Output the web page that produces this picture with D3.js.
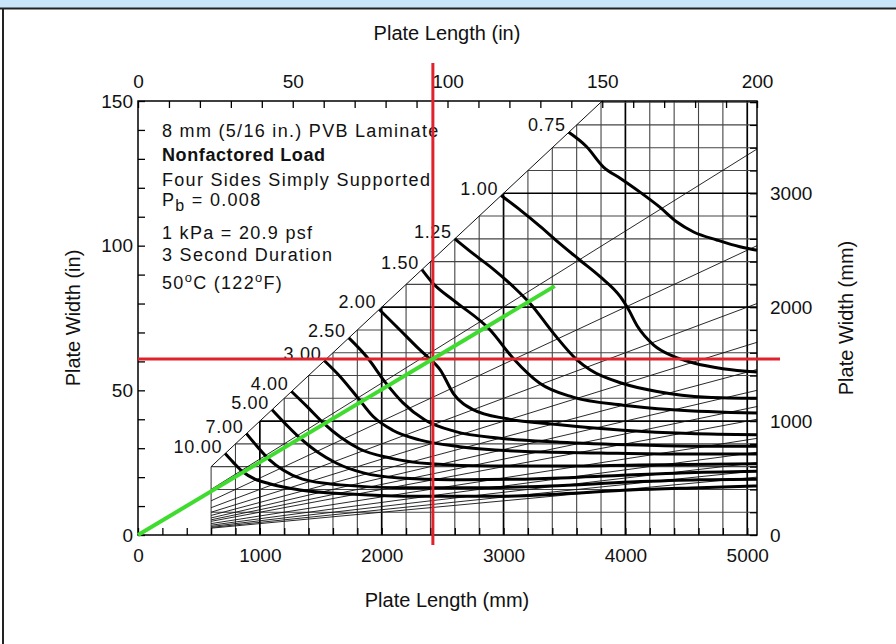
<!DOCTYPE html>
<html>
<head>
<meta charset="utf-8">
<script src="https://cdn.jsdelivr.net/npm/d3@7"></script>
<style>
  body { margin: 0; background: #fff; }
  text { font-family: "Liberation Sans", Arial, sans-serif; fill: #111; }
</style>
</head>
<body>
<svg id="chart" width="896" height="644"></svg>
<script>
// load contours, kPa: [plate length mm, plate width mm]
const c075 = [[3535,3535],[3680,3410],[3820,3230],[3960,3130],[4120,3010],[4280,2880],[4420,2750],[4560,2660],[4750,2590],[4940,2530],[5080,2500]]
const c100 = [[2980,2980],[3140,2850],[3300,2710],[3460,2560],[3630,2410],[3790,2270],[3960,2090],[4020,1990],[4100,1830],[4230,1670],[4390,1570],[4560,1510],[4800,1460],[5080,1430]]
const c125 = [[2600,2600],[2750,2470],[2920,2330],[3080,2180],[3220,2030],[3410,1770],[3600,1540],[3710,1450],[3980,1330],[4260,1260],[4670,1210],[5080,1200]]
const c150 = [[2330,2330],[2420,2210],[2590,2060],[2890,1800],[3080,1550],[3300,1330],[3570,1210],[3980,1140],[4390,1100],[5080,1070]]
const c200 = [[1980,1980],[2150,1800],[2290,1650],[2370,1570],[2480,1450],[2590,1240],[2750,1100],[3030,1020],[3440,970],[3980,920],[4530,890],[5080,880]]
const c250 = [[1730,1730],[1880,1560],[2030,1340],[2175,1160],[2355,1010],[2600,910],[2970,850],[3460,815],[4120,790],[4610,780],[5080,780]]
const c300 = [[1530,1530],[1660,1390],[1800,1210],[1930,1040],[2090,920],[2310,835],[2640,775],[3135,735],[3790,720],[4450,710],[5080,710]]
const c400 = [[1260,1260],[1390,1125],[1520,985],[1660,860],[1820,755],[2070,675],[2400,625],[2890,605],[3460,605],[4120,615],[5080,625]]
const c500 = [[1100,1100],[1220,965],[1330,850],[1470,730],[1630,630],[1850,545],[2150,500],[2560,485],[3135,490],[3790,515],[4450,545],[5080,560]]
const c700 = [[890,890],[980,775],[1080,660],[1190,570],[1350,490],[1660,440],[2150,415],[2725,415],[3380,430],[4040,465],[4610,485],[5080,490]]
const c1000 = [[715,715],[780,640],[860,555],[960,490],[1080,450],[1330,395],[1740,360],[2310,340],[2970,340],[3460,360],[4040,395],[4610,415],[5080,430]]
const loadLabels = ["0.75","1.00","1.25","1.50","2.00","2.50","3.00","4.00","5.00","7.00","10.00"]
const contours = [c075,c100,c125,c150,c200,c250,c300,c400,c500,c700,c1000]

// width / length of the thin aspect ratio lines
const aspectRatios = [0.667,0.5,0.4,0.333,0.286,0.25,0.222,0.2,0.167,0.143,0.125,0.111,0.1]

// red design point and green aspect line end, mm
const designPoint = [2420, 1545]
const greenEnd = [3420, 2185]

const inchTicks = d3.range(0, 201, 10)
const widthInTicks = d3.range(0, 151, 10)
const mmTicks = d3.range(0, 5001, 200)
const widthMmTicks = d3.range(0, 3801, 200)

const notes = ["8 mm (5/16 in.) PVB Laminate", "Nonfactored Load", "Four Sides Simply Supported",
  "Pb = 0.008", "1 kPa = 20.9 psf", "3 Second Duration", "50oC (122oF)"]

let svg = d3.select("#chart")

// page frame
svg.append("rect").attr("x", 0).attr("y", 0).attr("width", 896).attr("height", 8).attr("fill", "#c8e5fa")
svg.append("line").attr("x1", 0).attr("x2", 896).attr("y1", 8.5).attr("y2", 8.5).attr("stroke", "#222").attr("stroke-width", 2)
svg.append("line").attr("x1", 3).attr("x2", 3).attr("y1", 8).attr("y2", 644).attr("stroke", "#222").attr("stroke-width", 2)

let x = d3.scaleLinear().domain([0, 5080]).range([138, 757])
let xIn = d3.scaleLinear().domain([0, 200]).range([138, 757])
let y = d3.scaleLinear().domain([0, 3810]).range([535, 101])
let yIn = d3.scaleLinear().domain([0, 150]).range([535, 101])

let plot = svg.append("g")

// grid inside the chart region
let grid = plot.append("g")
grid.selectAll(".vg").data(mmTicks.filter(d => d >= 600))
  .enter().append("line")
  .attr("x1", d => x(d)).attr("x2", d => x(d))
  .attr("y1", y(0)).attr("y2", d => y(Math.min(d, 3810)))
  .attr("stroke", d => d % 1000 === 0 ? "#000" : "#444")
  .attr("stroke-width", d => d % 1000 === 0 ? 1.7 : 1.1)
grid.selectAll(".hg").data(widthMmTicks.filter(d => d > 0))
  .enter().append("line")
  .attr("x1", d => x(Math.max(600, d))).attr("x2", x(5080))
  .attr("y1", d => y(d)).attr("y2", d => y(d))
  .attr("stroke", d => d % 1000 === 0 ? "#000" : "#444")
  .attr("stroke-width", d => d % 1000 === 0 ? 1.7 : 1.1)

// aspect ratio lines
grid.selectAll(".ar").data(aspectRatios)
  .enter().append("line")
  .attr("x1", x(600)).attr("y1", d => y(d * 600))
  .attr("x2", x(5080)).attr("y2", d => y(d * 5080))
  .attr("stroke", "#111").attr("stroke-width", 0.9)
grid.append("line")
  .attr("x1", x(600)).attr("y1", y(600))
  .attr("x2", x(3810)).attr("y2", y(3810))
  .attr("stroke", "#111").attr("stroke-width", 1)

// load contours
let line = d3.line().x(d => x(d[0])).y(d => y(d[1])).curve(d3.curveMonotoneX)
plot.selectAll(".contour").data(contours)
  .enter().append("path")
  .attr("d", line)
  .attr("fill", "none").attr("stroke", "#000").attr("stroke-width", 3)

plot.selectAll(".clabel").data(contours)
  .enter().append("text")
  .attr("x", d => x(d[0][0]) - 3)
  .attr("y", d => y(d[0][1]) - 1)
  .attr("text-anchor", "end")
  .style("font-size", "18px")
  .style("letter-spacing", "0.7px")
  .text((d, i) => loadLabels[i])

// plot frame
plot.append("rect").attr("x", 138).attr("y", 101).attr("width", 619).attr("height", 434)
  .attr("fill", "none").attr("stroke", "#000").attr("stroke-width", 1.5)

// axes
function styleAxis(g) {
  g.select(".domain").remove()
  g.selectAll(".tick line").attr("stroke", "#000").attr("stroke-width", 1.3)
  g.selectAll(".tick text").style("font-size", "19px").attr("fill", "#111")
    .style("font-family", "'Liberation Sans', Arial, sans-serif")
}
svg.append("g").attr("transform", "translate(138,0)")
  .call(d3.axisLeft(yIn).tickValues(widthInTicks).tickSizeInner(-7).tickSizeOuter(0).tickPadding(5)
    .tickFormat(d => d % 50 === 0 ? d : ""))
  .call(styleAxis)
svg.append("g").attr("transform", "translate(0,101)")
  .call(d3.axisTop(xIn).tickValues(inchTicks).tickSizeInner(-7).tickSizeOuter(0).tickPadding(13)
    .tickFormat(d => d % 50 === 0 ? d : ""))
  .call(styleAxis)
svg.append("g").attr("transform", "translate(0,535)")
  .call(d3.axisBottom(x).tickValues(mmTicks).tickSizeInner(-7).tickSizeOuter(0).tickPadding(14)
    .tickFormat(d => d % 1000 === 0 ? d : ""))
  .call(styleAxis)
svg.append("g").attr("transform", "translate(757,0)")
  .call(d3.axisRight(y).tickValues(widthMmTicks).tickSizeInner(-7).tickSizeOuter(0).tickPadding(13)
    .tickFormat(d => d % 1000 === 0 ? d : ""))
  .call(styleAxis)

// axis titles
svg.append("text").attr("x", 447).attr("y", 40).attr("text-anchor", "middle")
  .style("font-size", "20px").text("Plate Length (in)")
svg.append("text").attr("x", 447).attr("y", 607).attr("text-anchor", "middle")
  .style("font-size", "20px").text("Plate Length (mm)")
svg.append("text").attr("text-anchor", "middle")
  .attr("transform", "translate(80,318) rotate(-90)")
  .style("font-size", "20px").text("Plate Width (in)")
svg.append("text").attr("text-anchor", "middle")
  .attr("transform", "translate(853,318) rotate(-90)")
  .style("font-size", "20px").text("Plate Width (mm)")

// notes block
let noteY = [137, 161, 186, 206, 239, 261, 289]
let notesG = svg.append("g").style("font-size", "18px").style("letter-spacing", "1.3px")
notes.forEach((t, i) => {
  let tx = notesG.append("text").attr("x", 162).attr("y", noteY[i])
  if (i === 1) {
    tx.style("font-weight", "bold").style("letter-spacing", "0.6px").text(t)
  } else if (i === 3) {
    tx.append("tspan").text("P")
    tx.append("tspan").attr("dy", 5).style("font-size", "16px").text("b")
    tx.append("tspan").attr("dy", -5).text(t.slice(2))
  } else if (i === 6) {
    tx.append("tspan").text("50")
    tx.append("tspan").attr("dy", -7).style("font-size", "13px").text("o")
    tx.append("tspan").attr("dy", 7).text("C (122")
    tx.append("tspan").attr("dy", -7).style("font-size", "13px").text("o")
    tx.append("tspan").attr("dy", 7).text("F)")
  } else {
    tx.text(t)
  }
})

// red design point lines
svg.append("line")
  .attr("x1", x(designPoint[0])).attr("x2", x(designPoint[0]))
  .attr("y1", y(3810) - 38).attr("y2", y(0) + 10)
  .attr("stroke", "#e0222c").attr("stroke-width", 3)
svg.append("line")
  .attr("x1", x(0)).attr("x2", x(5080) + 23)
  .attr("y1", y(designPoint[1])).attr("y2", y(designPoint[1]))
  .attr("stroke", "#e0222c").attr("stroke-width", 3)

// green aspect ratio line through the design point
svg.append("line")
  .attr("x1", x(0)).attr("y1", y(0))
  .attr("x2", x(greenEnd[0])).attr("y2", y(greenEnd[1]))
  .attr("stroke", "#3fdc2f").attr("stroke-width", 4)
</script>
</body>
</html>
